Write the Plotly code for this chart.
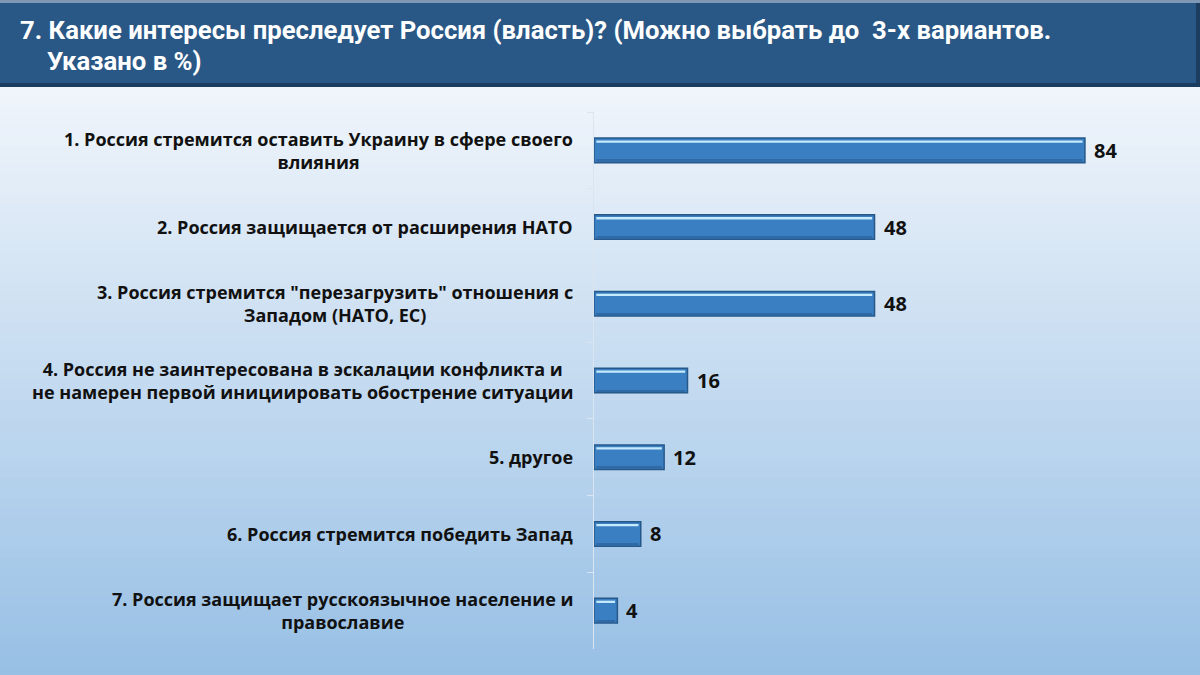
import plotly.graph_objects as go

# data
categories = [
    "1. Россия стремится оставить Украину в сфере своего<br>влияния",
    "2. Россия защищается от расширения НАТО",
    "3. Россия стремится \"перезагрузить\" отношения с<br>Западом (НАТО, ЕС)",
    "4. Россия не заинтересована в эскалации конфликта и<br>не намерен первой инициировать обострение ситуации",
    "5. другое",
    "6. Россия стремится победить Запад",
    "7. Россия защищает русскоязычное население и<br>православие",
]
values = [84, 48, 48, 16, 12, 8, 4]
ids = ["c1", "c2", "c3", "c4", "c5", "c6", "c7"]

title_line1 = "7. Какие интересы преследует Россия (власть)? (Можно выбрать до  3-х вариантов."
title_line2 = "Указано в %)"

W, H = 1200, 675
M_L, M_R, M_T, M_B = 594, 80, 112, 26


def py(p):
    # pixel row -> paper y
    return (H - M_B - p) / (H - M_T - M_B)


def px(p):
    return (p - M_L) / (W - M_L - M_R)


def mix(c1, c2, t):
    return "rgb({},{},{})".format(*[round(a + (b - a) * t) for a, b in zip(c1, c2)])


fig = go.Figure()

fig.add_trace(go.Bar(
    y=ids, x=values, orientation="h",
    width=0.32,
    marker=dict(color="#3a7fc2", line=dict(color="#26588a", width=1.5)),
    hoverinfo="skip", showlegend=False,
))
# bevel highlight strip near the top edge of each bar
fig.add_trace(go.Bar(
    y=ids, x=[v - 0.8 for v in values], base=0.4, orientation="h",
    width=0.03, offset=-0.13,
    marker=dict(color="#c4eafc", line=dict(width=0)),
    hoverinfo="skip", showlegend=False,
))
# darker bottom bevel
fig.add_trace(go.Bar(
    y=ids, x=[v - 0.8 for v in values], base=0.4, orientation="h",
    width=0.025, offset=0.125,
    marker=dict(color="#2f6aa6", line=dict(width=0)),
    hoverinfo="skip", showlegend=False,
))

shapes = []
# background gradient
top_c, bot_c = (240, 245, 251), (152, 192, 229)
n = 60
y0p, y1p = 86, H
for i in range(n):
    a = y0p + (y1p - y0p) * i / n
    b = y0p + (y1p - y0p) * (i + 1) / n
    shapes.append(dict(type="rect", xref="paper", yref="paper",
                       x0=px(0), x1=px(W), y0=py(b) - 0.002, y1=py(a),
                       fillcolor=mix(top_c, bot_c, i / (n - 1)),
                       line=dict(width=0), layer="below"))
# title bar
shapes.append(dict(type="rect", xref="paper", yref="paper",
                   x0=px(0), x1=px(W), y0=py(87), y1=py(0),
                   fillcolor="#1d3d60", line=dict(width=0), layer="below"))
shapes.append(dict(type="rect", xref="paper", yref="paper",
                   x0=px(0), x1=px(W - 4), y0=py(83), y1=py(0),
                   fillcolor="#2a5886", line=dict(width=0), layer="below"))
shapes.append(dict(type="rect", xref="paper", yref="paper",
                   x0=px(0), x1=px(W), y0=py(3), y1=py(0),
                   fillcolor="#7f98b4", line=dict(width=0), layer="below"))

annotations = []
for cid, cat in zip(ids, categories):
    annotations.append(dict(x=0, xref="paper", y=cid, yref="y", text=cat,
                            showarrow=False, xanchor="right", align="center",
                            xshift=-19,
                            font=dict(family="Open Sans", size=18, weight="bold",
                                      color="#111111")))
for cid, v in zip(ids, values):
    annotations.append(dict(x=v, xref="x", y=cid, yref="y", text="%d" % v,
                            showarrow=False, xanchor="left", xshift=7,
                            font=dict(family="Open Sans", size=20, weight="bold",
                                      color="#111111")))
annotations.append(dict(x=px(18), xref="paper", y=py(30), yref="paper",
                        text=title_line1, showarrow=False,
                        xanchor="left", yanchor="middle",
                        font=dict(family="Roboto", size=25.7, weight="bold", color="white")))
annotations.append(dict(x=px(45), xref="paper", y=py(61), yref="paper",
                        text=title_line2, showarrow=False,
                        xanchor="left", yanchor="middle",
                        font=dict(family="Roboto", size=25.7, weight="bold", color="white")))

fig.update_layout(
    width=W, height=H,
    margin=dict(l=M_L, r=M_R, t=M_T, b=M_B),
    paper_bgcolor="#c4daf0", plot_bgcolor="rgba(0,0,0,0)",
    barmode="overlay",
    shapes=shapes, annotations=annotations,
    font=dict(family="Open Sans"),
    xaxis=dict(range=[0, 90], visible=False, fixedrange=True),
    yaxis=dict(autorange="reversed", showticklabels=False, showgrid=False,
               showline=True, linecolor="#dbe5f0", linewidth=1,
               ticks="outside", ticklen=6, tickcolor="#dbe5f0",
               tickson="boundaries", zeroline=False, fixedrange=True),
)

fig.write_html("out.html", config={"displayModeBar": False},
               post_script="document.body.style.margin='0';")
